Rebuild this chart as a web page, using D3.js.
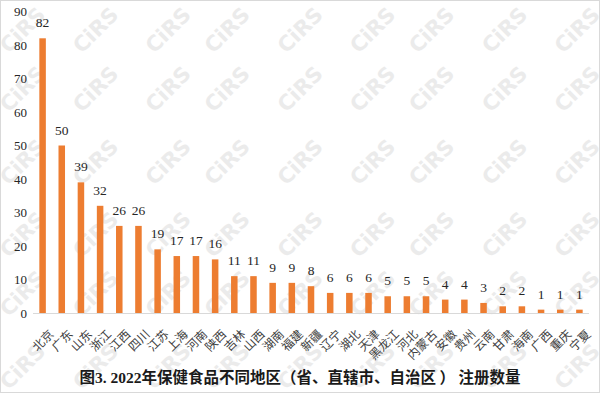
<!DOCTYPE html>
<html>
<head>
<meta charset="utf-8">
<script src="https://cdn.jsdelivr.net/npm/d3@7"></script>
<style>
  html, body { margin: 0; padding: 0; background: #fff; }
  svg { display: block; }
</style>
</head>
<body>
<svg id="chart" width="600" height="393"></svg>
<script>
// Registered health food products by region, 2022
const regions = ["北京","广东","山东","浙江","江西","四川","江苏","上海","河南","陕西",
  "吉林","山西","湖南","福建","新疆","辽宁","湖北","天津","黑龙江","河北",
  "内蒙古","安徽","贵州","云南","甘肃","海南","广西","重庆","宁夏"];
const counts = [82,50,39,32,26,26,19,17,17,16,11,11,9,9,8,6,6,6,5,5,5,4,4,3,2,2,1,1,1];
const yTicks = [0,10,20,30,40,50,60,70,80,90];
const titleParts = [
  { t: "图", cjk: true }, { t: "3. 2022", cjk: false },
  { t: "年保健食品不同地区（省、直辖市、自治区 ） 注册数量", cjk: true }
];

const W = 600, H = 393;
const svg = d3.select("#chart");
const serif = "'Liberation Serif', 'Times New Roman', serif";
const cjkFont = "'Noto Sans CJK SC', 'Noto Sans', sans-serif";

// background + frame
svg.append("rect").attr("x", 0.5).attr("y", 0.5).attr("width", W - 1).attr("height", H - 1)
  .attr("fill", "#fff").attr("stroke", "#d9d9d9");

// tiled CiRS watermark, clipped to the frame
svg.append("clipPath").attr("id", "frame-clip")
  .append("rect").attr("x", 1).attr("y", 1).attr("width", W - 2).attr("height", H - 2);
const wm = svg.append("g").attr("pointer-events", "none").attr("clip-path", "url(#frame-clip)");
const tileOffsets = [0, 59, 132], period = 204.5;
const wx = [], wy = [];
for (let k = -1; k < 4; k++) tileOffsets.forEach(o => { wx.push(168 + k * period + o); wy.push(30 + k * period + o); });
wy.forEach(cy => {
  if (cy < -40 || cy > H + 40) return;
  wx.forEach(cx => {
    if (cx < -40 || cx > W + 40) return;
    wm.append("text").attr("transform", `translate(${cx},${cy}) rotate(-45)`)
      .attr("text-anchor", "middle").attr("dy", "0.35em")
      .attr("font-family", "'DejaVu Sans', sans-serif").attr("font-weight", "bold")
      .attr("font-size", 21).attr("fill", "#ebebeb").text("CiRS");
  });
});

// scales
const x = d3.scaleBand().domain(regions).range([33, 589]).paddingInner(0.66).paddingOuter(0.33);
const y = d3.scaleLinear().domain([0, 90]).range([313, 11.5]);

// y tick labels (no axis line)
const yAxis = svg.append("g").attr("transform", "translate(27,0)")
  .call(d3.axisLeft(y).tickValues(yTicks).tickSize(0).tickPadding(0));
yAxis.select(".domain").remove();
yAxis.selectAll("text").attr("font-family", serif).attr("font-size", 13).attr("fill", "#262626");

// bars
svg.append("g").selectAll("rect").data(regions).join("rect")
  .attr("x", d => x(d)).attr("width", x.bandwidth())
  .attr("y", (d, i) => y(counts[i])).attr("height", (d, i) => y(0) - y(counts[i]))
  .attr("fill", "#ED7D31");

// value labels
svg.append("g").selectAll("text").data(regions).join("text")
  .attr("x", d => x(d) + x.bandwidth() / 2).attr("y", (d, i) => y(counts[i]) - 11)
  .attr("text-anchor", "middle").attr("font-family", serif).attr("font-size", 13.5)
  .attr("fill", "#262626").text((d, i) => counts[i]);

// x axis baseline + rotated category labels
const xAxis = svg.append("g").attr("transform", `translate(0,${y(0)})`)
  .call(d3.axisBottom(x).tickSize(0).tickPadding(0));
xAxis.select(".domain").attr("stroke", "#d9d9d9").attr("d", "M33,0.5H589");
xAxis.selectAll(".tick text")
  .attr("font-family", cjkFont).attr("font-size", 12).attr("fill", "#404040")
  .attr("text-anchor", "end").attr("dy", "0.35em")
  .attr("transform", "translate(9,19) rotate(-45)");

// title
const title = svg.append("text").attr("x", 300).attr("y", 383).attr("text-anchor", "middle")
  .attr("font-weight", "bold").attr("font-size", 15.5).attr("fill", "#1a1a1a");
titleParts.forEach(p => title.append("tspan").attr("font-family", p.cjk ? cjkFont : serif).text(p.t));
</script>
</body>
</html>
